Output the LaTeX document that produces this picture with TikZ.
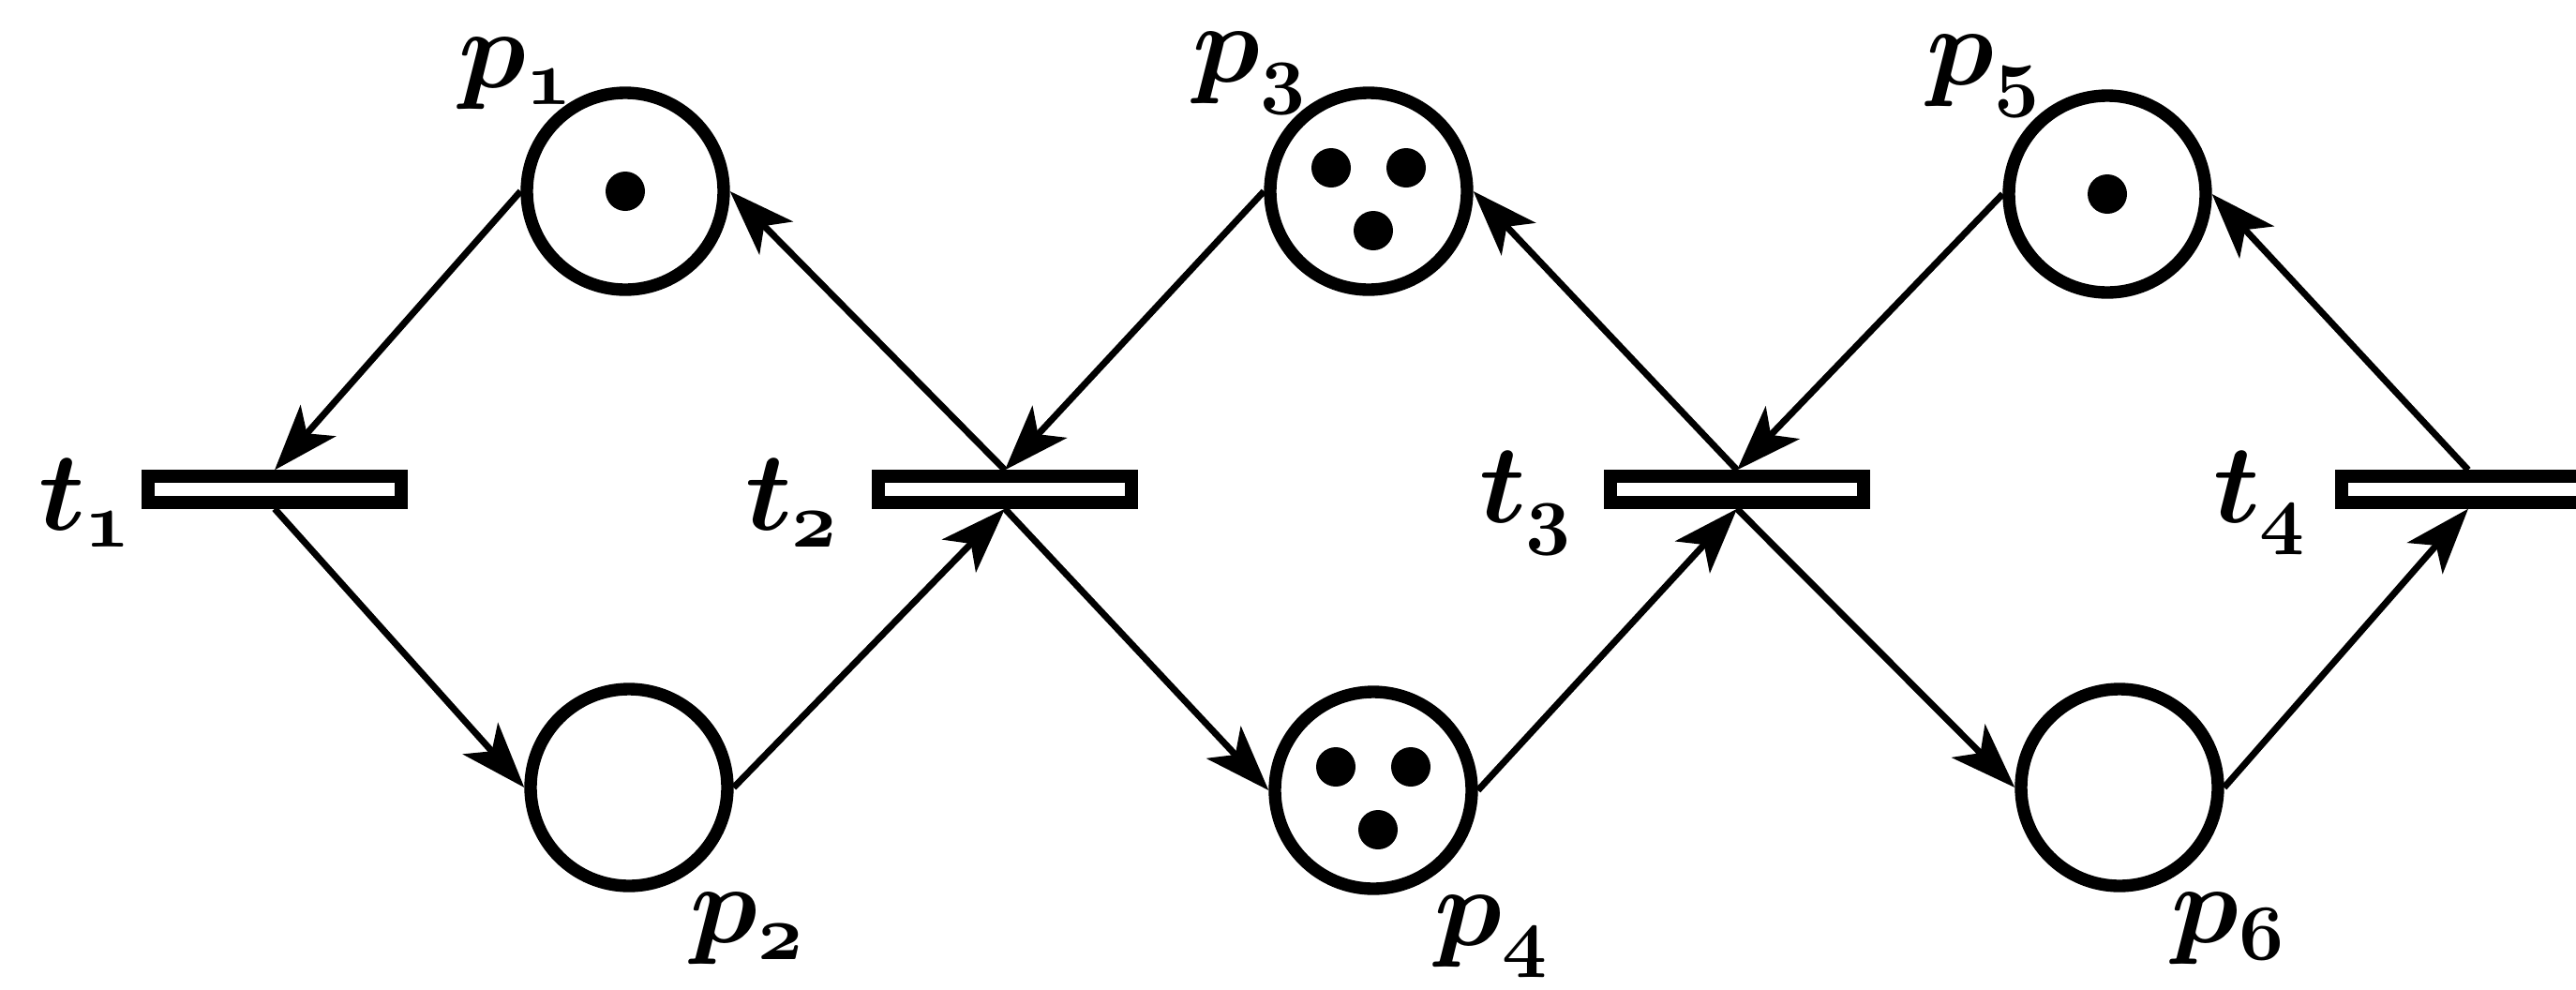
\RequirePackage{fix-cm}
\documentclass[tikz,border=0pt]{standalone}
\usepackage{tikz}
\usetikzlibrary{arrows.meta,calc,positioning}

\begin{document}
\begin{tikzpicture}[
    >={Stealth[length=7mm,width=5mm,inset=1.8mm]},
    place/.style={draw,circle,line width=3.8pt,minimum size=21mm,inner sep=0pt},
    trans/.style={draw,rectangle,line width=3.8pt,fill=white,
                  minimum width=27mm,minimum height=2.8mm,inner sep=0pt},
    arc/.style={->,line width=2pt},
    lbl/.style={inner sep=0pt,font=\fontsize{34}{40}\selectfont\boldmath}]
  \useasboundingbox (0,0) rectangle (27.48,10.55);
  \clip (0,0) rectangle (27.48,10.55);
  % places
  \node[place] (p1) at (6.67,8.51) {};
  \node[place] (p2) at (6.71,2.15) {};
  \node[place] (p3) at (14.60,8.51) {};
  \node[place] (p4) at (14.65,2.12) {};
  \node[place] (p5) at (22.48,8.48) {};
  \node[place] (p6) at (22.61,2.15) {};
  % transitions
  \node[trans] (t1) at (2.93,5.33) {};
  \node[trans] (t2) at (10.72,5.33) {};
  \node[trans] (t3) at (18.53,5.33) {};
  \node[trans] (t4) at (26.33,5.33) {};
  % labels
  \node[lbl,anchor=south east] (lp1) at ([xshift=-5.5mm,yshift=-2.5mm]p1.north) {$p_{\oldstylenums{1}}$};
  \node[lbl,anchor=south east] (lp3) at ([xshift=-6.5mm,yshift=-3mm]p3.north) {$p_{\oldstylenums{3}}$};
  \node[lbl,anchor=south east] (lp5) at ([xshift=-7mm,yshift=-3mm]p5.north) {$p_{\oldstylenums{5}}$};
  \node[lbl,anchor=north west] (lp2) at ([xshift=6.5mm]p2.south) {$p_{\oldstylenums{2}}$};
  \node[lbl,anchor=north west] (lp4) at ([xshift=6.5mm]p4.south) {$p_{\oldstylenums{4}}$};
  \node[lbl,anchor=north west] (lp6) at ([xshift=5.5mm]p6.south) {$p_{\oldstylenums{6}}$};
  \node[lbl,anchor=east] (lt1) at ([xshift=-1mm,yshift=-1.5mm]t1.west) {$t_{\oldstylenums{1}}$};
  \node[lbl,anchor=east] (lt2) at ([xshift=-3.5mm,yshift=-1.5mm]t2.west) {$t_{\oldstylenums{2}}$};
  \node[lbl,anchor=east] (lt3) at ([xshift=-3.3mm,yshift=-1.5mm]t3.west) {$t_{\oldstylenums{3}}$};
  \node[lbl,anchor=east] (lt4) at ([xshift=-3mm,yshift=-1.5mm]t4.west) {$t_{\oldstylenums{4}}$};
  % tokens
  \fill (p1) circle (0.21);
  \fill ($(p3)+(-0.4,0.25)$) circle (0.21);
  \fill ($(p3)+(0.4,0.25)$) circle (0.21);
  \fill ($(p3)+(0.05,-0.42)$) circle (0.21);
  \fill ($(p4)+(-0.4,0.25)$) circle (0.21);
  \fill ($(p4)+(0.4,0.25)$) circle (0.21);
  \fill ($(p4)+(0.05,-0.42)$) circle (0.21);
  \fill (p5) circle (0.21);
  % arcs
  \draw[arc] (p1.west) -- (t1.north);
  \draw[arc] (t1.south) -- (p2.west);
  \draw[arc] (p2.east) -- (t2.south);
  \draw[arc] (t2.north) -- (p1.east);
  \draw[arc] (p3.west) -- (t2.north);
  \draw[arc] (t2.south) -- (p4.west);
  \draw[arc] (p4.east) -- (t3.south);
  \draw[arc] (t3.north) -- (p3.east);
  \draw[arc] (p5.west) -- (t3.north);
  \draw[arc] (t3.south) -- (p6.west);
  \draw[arc] (p6.east) -- (t4.south);
  \draw[arc] (t4.north) -- (p5.east);
\end{tikzpicture}
\end{document}
